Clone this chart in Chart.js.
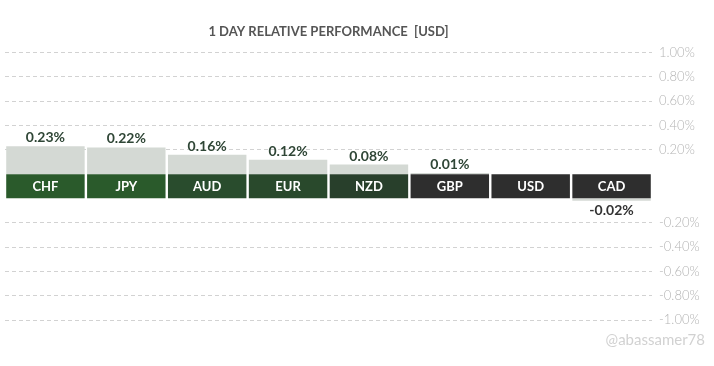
<!DOCTYPE html>
<html>
<head>
<meta charset="utf-8">
<script src="https://cdn.jsdelivr.net/npm/chart.js@4"></script>
<style>
html,body{margin:0;padding:0;background:#fff;}
#wrap{width:714px;height:366px;position:relative;}
</style>
</head>
<body>
<div id="wrap"><canvas id="c" width="714" height="366"></canvas></div>
<script>
// ---- data ----
const categories = ['CHF','JPY','AUD','EUR','NZD','GBP','USD','CAD'];
const changes = [0.23, 0.22, 0.16, 0.12, 0.08, 0.01, 0.00, -0.02];
const tickValues = [1.0, 0.8, 0.6, 0.4, 0.2, -0.2, -0.4, -0.6, -0.8, -1.0];
const labelColors = ['#2a5a2b','#2a5a2b','#294c2d','#29492c','#283f2b','#2e2e2e','#2e2e2e','#2e2e2e'];
const titleText = '1 DAY RELATIVE PERFORMANCE  [USD]';

// half-height of the category band, in value units
const B = 0.099;
const toAxis = v => v >= 0 ? v + B : v - B;
const fromAxis = a => a > 0 ? a - B : a + B;

const bandData = categories.map(() => [-B, B]);
const perfData = changes.map(v => v >= 0 ? [B, B + v] : [-B, -B + v]);

const FONT = 'Lato, "Open Sans", sans-serif';

const labelPlugin = {
  id: 'labels',
  afterDraw(chart) {
    const ctx = chart.ctx;
    const meta = chart.getDatasetMeta(1);
    const y = chart.scales.y;
    ctx.save();
    ctx.textAlign = 'center';
    meta.data.forEach((bar, i) => {
      const v = changes[i];
      ctx.font = 'bold 13px ' + FONT;
      ctx.fillStyle = '#ffffff';
      ctx.textBaseline = 'middle';
      ctx.fillText(categories[i], bar.x, (y.getPixelForValue(B) + y.getPixelForValue(-B)) / 2 + 1);
      if (v === 0) return;
      ctx.font = 'bold 14px ' + FONT;
      const txt = v.toFixed(2) + '%';
      if (v > 0) {
        ctx.fillStyle = '#2f4636';
        ctx.textBaseline = 'alphabetic';
        ctx.fillText(txt, bar.x, y.getPixelForValue(toAxis(v)) - 4);
      } else {
        ctx.fillStyle = '#333333';
        ctx.textBaseline = 'top';
        ctx.fillText(txt, bar.x, y.getPixelForValue(toAxis(v)) + 3);
      }
    });
    ctx.font = '15px ' + FONT;
    ctx.fillStyle = 'rgba(190,190,190,0.7)';
    ctx.textAlign = 'right';
    ctx.textBaseline = 'middle';
    ctx.fillText('@abassamer78', 705, 340);
    ctx.restore();
  }
};

new Chart(document.getElementById('c'), {
  type: 'bar',
  data: {
    labels: categories,
    datasets: [
      {
        data: bandData,
        backgroundColor: labelColors,
        grouped: false,
        barPercentage: 0.97,
        categoryPercentage: 1,
        order: 1
      },
      {
        data: perfData,
        backgroundColor: '#d4d9d4',
        grouped: false,
        barPercentage: 0.97,
        categoryPercentage: 1,
        order: 2
      }
    ]
  },
  options: {
    responsive: false,
    animation: false,
    devicePixelRatio: 1,
    layout: { padding: { left: 5, right: 0, top: 0, bottom: 46 } },
    plugins: {
      legend: { display: false },
      tooltip: { enabled: false },
      title: {
        display: true,
        text: titleText,
        fullSize: false,
        color: '#555555',
        font: { family: FONT, size: 13, weight: 'bold' },
        padding: { top: 24, bottom: 13 }
      }
    },
    scales: {
      x: { display: false },
      y: {
        position: 'right',
        min: -(1 + B),
        max: 1 + B,
        z: 1,
        afterBuildTicks: s => { s.ticks = tickValues.map(v => ({ value: toAxis(v) })); },
        afterFit: s => { s.width = 62; },
        grid: { color: '#d2d2d2', lineWidth: 1, drawTicks: false },
        border: { display: false, dash: [4, 3] },
        ticks: {
          padding: 7,
          color: '#b4b4b4',
          font: { family: FONT, size: 13, weight: '300' },
          callback: v => fromAxis(v).toFixed(2) + '%'
        }
      }
    }
  },
  plugins: [labelPlugin]
});
</script>
</body>
</html>
